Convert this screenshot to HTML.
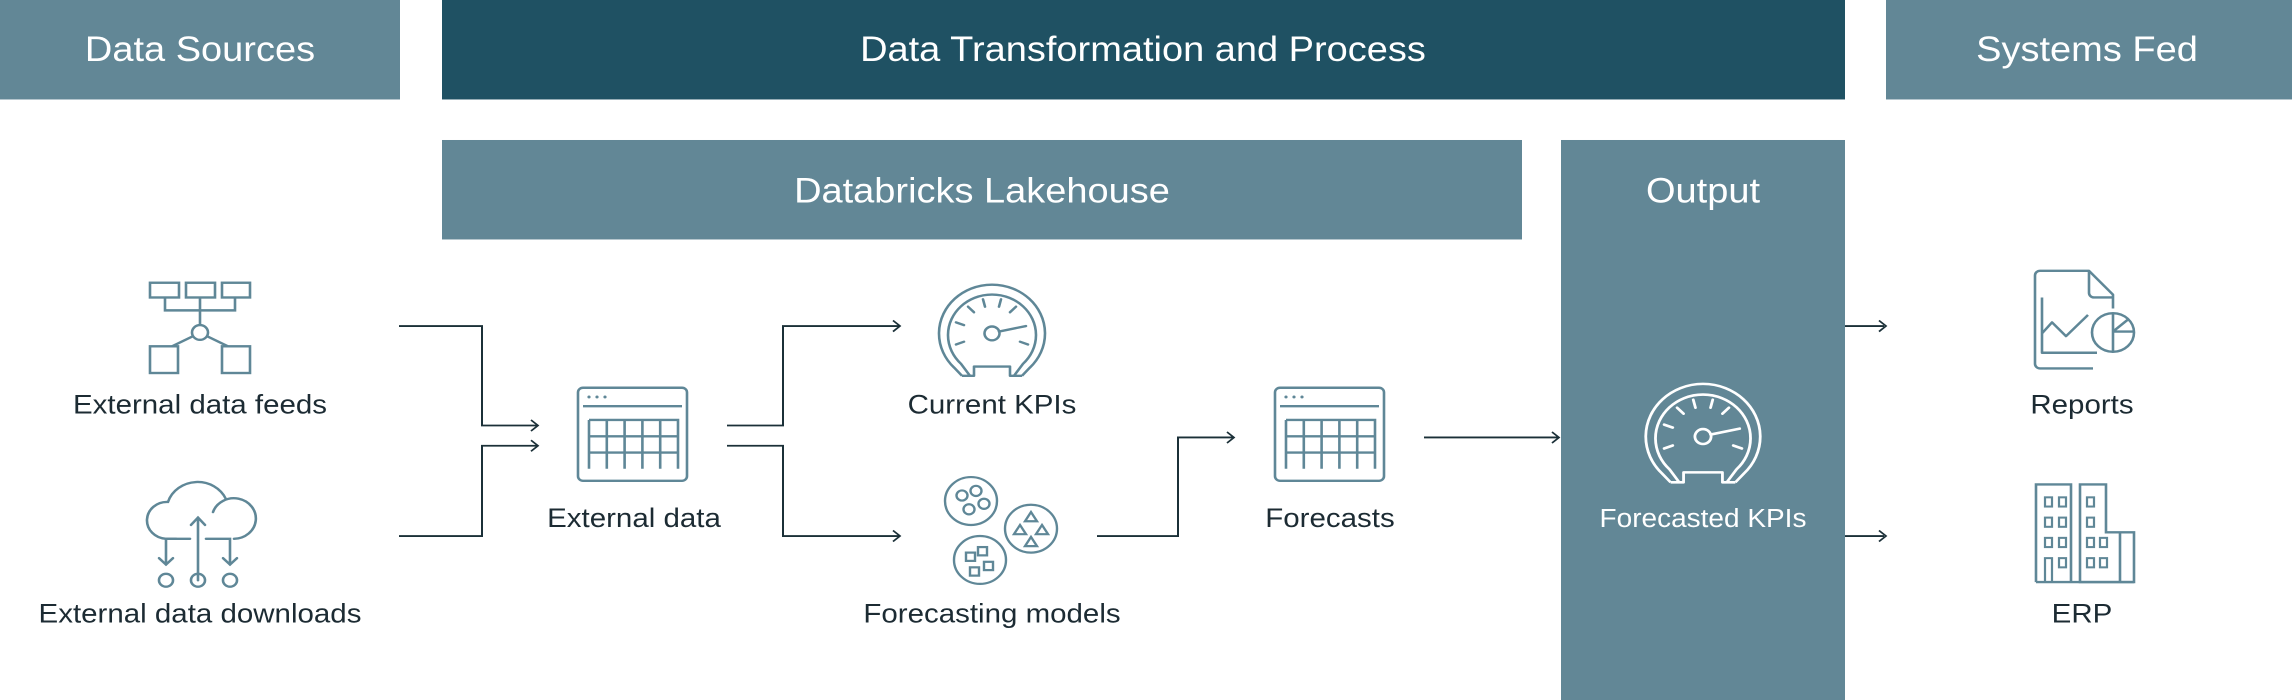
<!DOCTYPE html>
<html><head><meta charset="utf-8"><style>
html,body{margin:0;padding:0;background:#fff}
svg{display:block}
text{font-family:"Liberation Sans",sans-serif}
</style></head><body>
<svg width="2292" height="700" viewBox="0 0 2292 700" xmlns="http://www.w3.org/2000/svg">
<defs>
<g id="gauge" fill="none" stroke-width="2.6" stroke-linejoin="round">
  <path d="M -30 46 L -38 37 A 53 53 0 1 1 38 37 L 30 46"/>
  <path d="M -22 46 L -31 33 A 44 44 0 1 1 31 33 L 22 46"/>
  <path d="M -30 46 H -18 V 36 H 18 V 46 H 30"/>
  <g stroke-linecap="round">
    <line x1="-36" y1="12" x2="-28" y2="9"/>
    <line x1="-36" y1="-12" x2="-28" y2="-9"/>
    <line x1="-24" y1="-29" x2="-18" y2="-23"/>
    <line x1="-9" y1="-37" x2="-7" y2="-29"/>
    <line x1="9" y1="-37" x2="7" y2="-29"/>
    <line x1="24" y1="-29" x2="18" y2="-23"/>
    <line x1="36" y1="12" x2="28" y2="9"/>
    <line x1="7" y1="-2" x2="34" y2="-8"/>
  </g>
  <circle cx="0" cy="0" r="7.5"/>
</g>
<g id="table" fill="none" stroke-width="2.6">
  <rect x="0" y="0" width="109" height="101" rx="5"/>
  <line x1="5" y1="20" x2="104" y2="20"/>
  <circle cx="11" cy="10" r="1.6" fill="#5f8797" stroke="none"/>
  <circle cx="19" cy="10" r="1.6" fill="#5f8797" stroke="none"/>
  <circle cx="27" cy="10" r="1.6" fill="#5f8797" stroke="none"/>
  <path d="M11 35 H 100 V 88 M11 35 V 88 M28.8 35 V 88 M46.6 35 V 88 M64.4 35 V 88 M82.2 35 V 88 M11 52.7 H100 M11 70.4 H100"/>
</g>
</defs>

<g transform="scale(1 0.921)">
<!-- headers -->
<rect x="0" y="0" width="400" height="108" fill="#628796"/>
<rect x="442" y="0" width="1403" height="108" fill="#1f5163"/>
<rect x="1886" y="0" width="406" height="108" fill="#628796"/>
<rect x="442" y="152" width="1080" height="108" fill="#628796"/>
<rect x="1561" y="152" width="284" height="610" fill="#628796"/>
<g fill="#fff" font-size="38" text-anchor="middle">
<text x="200" y="66">Data Sources</text>
<text x="1143" y="66">Data Transformation and Process</text>
<text x="2087" y="66">Systems Fed</text>
<text x="982" y="220">Databricks Lakehouse</text>
<text x="1703" y="220">Output</text>
</g>

<!-- labels -->
<g fill="#1c2b33" font-size="29.5" text-anchor="middle">
<text x="200" y="449">External data feeds</text>
<text x="200" y="676">External data downloads</text>
<text x="634" y="572">External data</text>
<text x="992" y="449">Current KPIs</text>
<text x="992" y="676">Forecasting models</text>
<text x="1330" y="572">Forecasts</text>
<text x="2082" y="449">Reports</text>
<text x="2082" y="676">ERP</text>
</g>
<text x="1703" y="572" fill="#fff" font-size="28" text-anchor="middle">Forecasted KPIs</text>

<!-- connectors -->
<g fill="none" stroke="#1b3038" stroke-width="2">
<path d="M399 354 H482 V462 H537"/>
<path d="M399 582 H482 V484 H537"/>
<path d="M727 462 H783 V354 H899"/>
<path d="M727 484 H783 V582 H899"/>
<path d="M1097 582 H1178 V475 H1233"/>
<path d="M1424 475 H1558"/>
<path d="M1845 354 H1884"/>
<path d="M1845 582 H1884"/>
<g stroke-width="1.8">
<path d="M531 456 L538 462 L531 468"/>
<path d="M531 478 L538 484 L531 490"/>
<path d="M893 348 L900 354 L893 360"/>
<path d="M893 576 L900 582 L893 588"/>
<path d="M1227 469 L1234 475 L1227 481"/>
<path d="M1552 469 L1559 475 L1552 481"/>
<path d="M1879 348 L1886 354 L1879 360"/>
<path d="M1879 576 L1886 582 L1879 588"/>
</g>
</g>

<!-- feeds icon -->
<g fill="none" stroke="#5f8797" stroke-width="2.6">
<rect x="150" y="307" width="29" height="16"/>
<rect x="186" y="307" width="29" height="16"/>
<rect x="222" y="307" width="28" height="16"/>
<path d="M165 323 V337 H235 V323 M200 323 V353"/>
<circle cx="200" cy="361" r="8"/>
<rect x="150" y="376" width="28" height="29"/>
<rect x="222" y="376" width="28" height="29"/>
<path d="M193 365 L172 376 M207 365 L228 376"/>
</g>

<!-- cloud icon -->
<g fill="none" stroke="#5f8797" stroke-width="2.6" stroke-linecap="round">
<path d="M176 585 H166 A20 20 0 0 1 168 545 A31 31 0 0 1 226 542 M213 556 A22 22 0 1 1 234 585"/>
<path d="M198 630 V562 M191 570 L198 562 L205 570"/>
<path d="M190 585 H166 V613 M159 606 L166 613 L173 606"/>
<path d="M206 585 H230 V613 M223 606 L230 613 L237 606"/>
<circle cx="166" cy="630" r="7"/>
<circle cx="198" cy="630" r="7"/>
<circle cx="230" cy="630" r="7"/>
</g>

<use href="#table" x="578" y="421" stroke="#5f8797"/>
<use href="#table" x="1275" y="421" stroke="#5f8797"/>
<use href="#gauge" transform="translate(992 362)" stroke="#5f8797"/>
<use href="#gauge" transform="translate(1703 474) scale(1.08)" stroke="#ffffff"/>

<!-- models icon -->
<g fill="none" stroke="#5f8797" stroke-width="2.4">
<circle cx="971" cy="544" r="26"/>
<circle cx="962" cy="538" r="5.5"/><circle cx="976" cy="533" r="5.5"/>
<circle cx="984" cy="547" r="5.5"/><circle cx="969" cy="553" r="5.5"/>
<circle cx="1031" cy="574" r="26"/>
<path d="M1031 556 l6 10 h-12 z M1020 570 l6 10 h-12 z M1042 570 l6 10 h-12 z M1031 583 l6 10 h-12 z"/>
<circle cx="980" cy="608" r="26"/>
<rect x="966" y="600" width="9" height="9"/><rect x="978" y="594" width="9" height="9"/>
<rect x="984" y="610" width="9" height="9"/><rect x="970" y="616" width="9" height="9"/>
</g>

<!-- reports icon -->
<g fill="none" stroke="#5f8797" stroke-width="2.6" stroke-linejoin="round">
<path d="M2093 400 H2040 A5 5 0 0 1 2035 395 V299 A5 5 0 0 1 2040 294 H2089 L2113 320 V335"/>
<path d="M2089 294 V318 A5 5 0 0 0 2094 323 H2113"/>
<path d="M2042 323 V383 H2097 M2042 362 L2052 350 L2066 365 L2088 342"/>
<path d="M2113 340 A21 21 0 1 0 2113 382"/>
<path d="M2113 340 A21 21 0 1 1 2113 382 V340 M2113 360 H2133 M2113 360 L2129 346"/>
</g>

<!-- ERP icon -->
<g fill="none" stroke="#5f8797" stroke-width="2.6">
<path d="M2036 632 V526 H2071 V632 M2080 632 V526 H2106 V578 H2134 V632 Z M2120 578 V632"/>
<path d="M2036 632 H2134"/>
<g stroke-width="2.2">
<rect x="2045" y="540" width="7" height="10"/><rect x="2059" y="540" width="7" height="10"/>
<rect x="2045" y="562" width="7" height="10"/><rect x="2059" y="562" width="7" height="10"/>
<rect x="2045" y="584" width="7" height="10"/><rect x="2059" y="584" width="7" height="10"/>
<rect x="2059" y="606" width="7" height="10"/>
<path d="M2045 632 V606 H2052 V632"/>
<rect x="2087" y="540" width="7" height="10"/><rect x="2087" y="562" width="7" height="10"/>
<rect x="2087" y="584" width="7" height="10"/><rect x="2100" y="584" width="7" height="10"/>
<rect x="2087" y="606" width="7" height="10"/><rect x="2100" y="606" width="7" height="10"/>
</g>
</g>
</g>
</svg>
</body></html>
